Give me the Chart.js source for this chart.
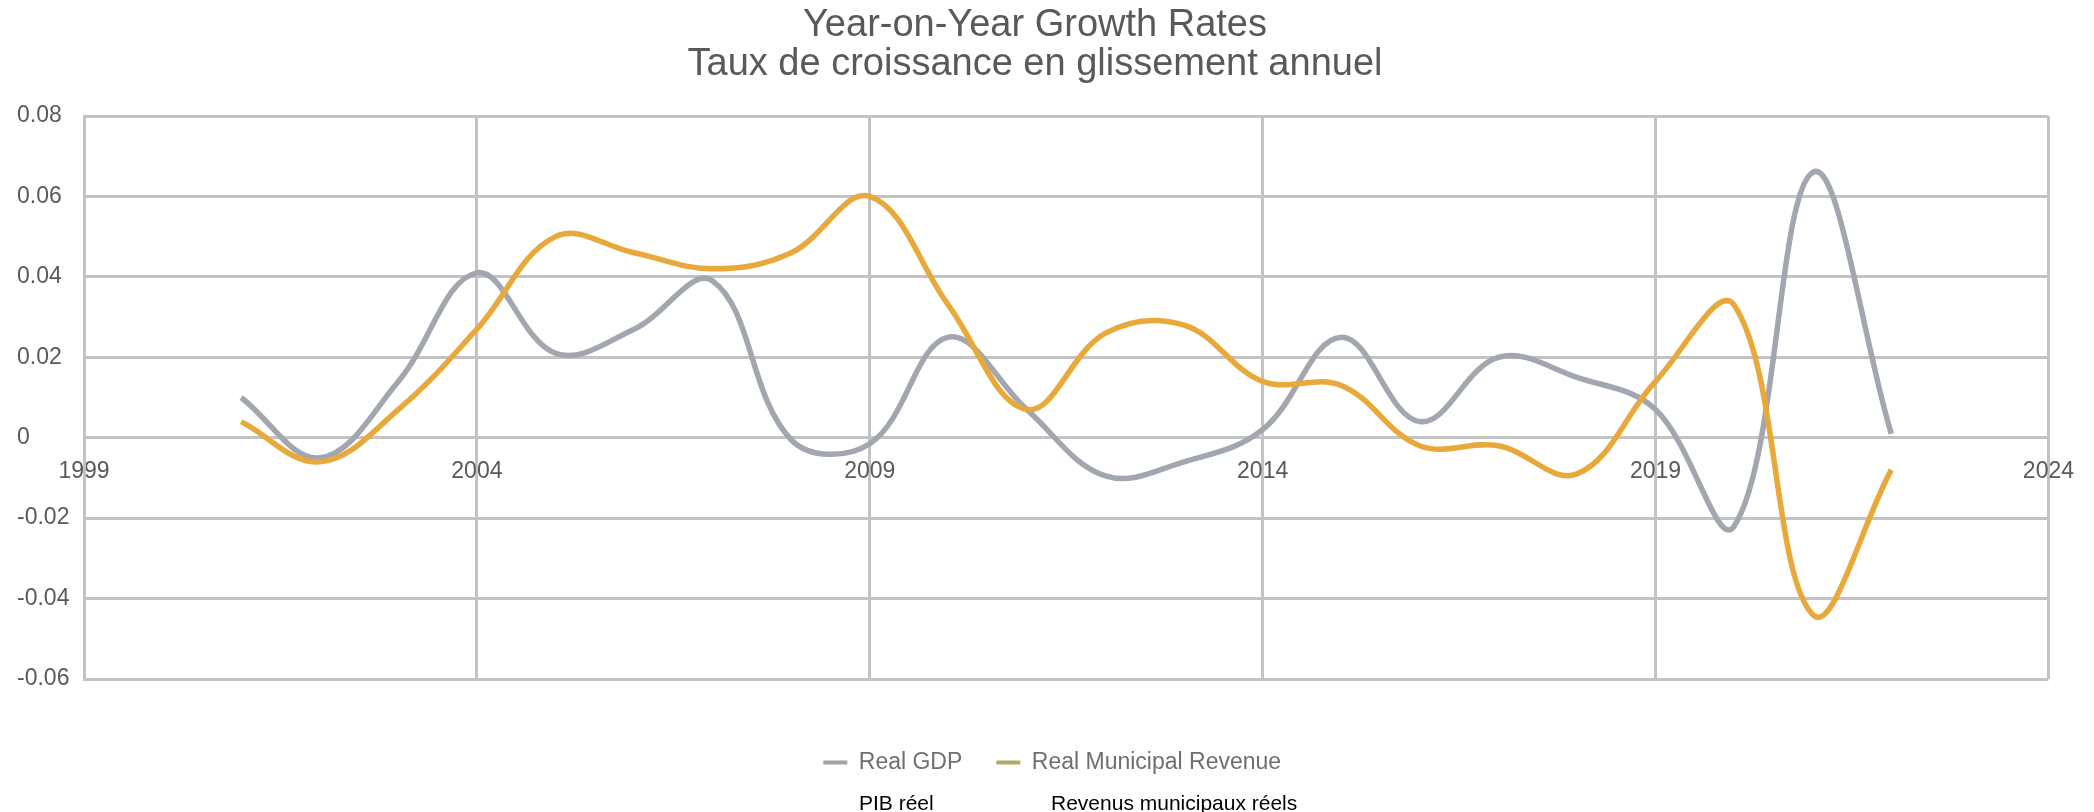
<!DOCTYPE html>
<html><head><meta charset="utf-8">
<script src="https://cdn.jsdelivr.net/npm/chart.js@4.4.1/dist/chart.umd.min.js"></script>
<style>
html,body{margin:0;padding:0;background:#fff;}
#wrap{position:relative;width:2094px;height:812px;overflow:hidden;}
#c{position:absolute;left:0;top:0;}
.fr{position:absolute;font-family:'Liberation Sans',Arial,sans-serif;font-size:21px;line-height:21px;color:#000;white-space:nowrap;}
</style></head><body>
<div id="wrap">
<canvas id="c" width="2094" height="812"></canvas>
<div class="fr" style="left:859px;top:792px">PIB réel</div>
<div class="fr" style="left:1051px;top:792px">Revenus municipaux réels</div>
</div>
<script>
const years = [2001,2002,2003,2004,2005,2006,2007,2008,2009,2010,2011,2012,2013,2014,2015,2016,2017,2018,2019,2020,2021,2022];
const realGDP = [0.010,-0.005,0.014,0.041,0.021,0.027,0.039,-0.0005,-0.0015,0.025,0.007,-0.0095,-0.006,0.002,0.025,0.004,0.020,0.015,0.007,-0.022,0.066,0.001];
const realMunicipalRevenue = [0.004,-0.006,0.007,0.027,0.050,0.046,0.042,0.046,0.060,0.033,0.007,0.026,0.028,0.014,0.013,-0.002,-0.002,-0.009,0.014,0.033,-0.044,-0.008];
const seriesNames = ['Real GDP','Real Municipal Revenue'];
const titleLines = ['Year-on-Year Growth Rates','Taux de croissance en glissement annuel'];
const xTicks = [1999,2004,2009,2014,2019,2024];
const yTicks = [-0.06,-0.04,-0.02,0,0.02,0.04,0.06,0.08];

const FONT = "'Liberation Sans', Arial, sans-serif";
const GRID = '#c3c3c3';
const TXT = '#595959';
const lineColors = ['#a2a6ae','#e8a83a'];
const markerColors = ['#a3a3a3','#b3aa62'];
const LEGEND_SHIFT = -14;

Chart.defaults.font.family = FONT;

const toPts = arr => years.map((x,i)=>({x:x, y:arr[i]}));

const legendShift = {
  id: 'legendShift',
  afterLayout(chart) {
    if (chart.legend) { chart.legend.left += LEGEND_SHIFT; chart.legend.right += LEGEND_SHIFT; }
  }
};

new Chart(document.getElementById('c'), {
  type: 'line',
  data: {
    datasets: [
      {label: seriesNames[0], data: toPts(realGDP), borderColor: lineColors[0], backgroundColor: lineColors[0],
       borderWidth: 5.5, pointRadius: 0, tension: 0.38, xAxisID:'x', yAxisID:'y', order: 1},
      {label: seriesNames[1], data: toPts(realMunicipalRevenue), borderColor: lineColors[1], backgroundColor: lineColors[1],
       borderWidth: 5.5, pointRadius: 0, tension: 0.38, xAxisID:'x', yAxisID:'y', order: 0}
    ]
  },
  plugins: [legendShift],
  options: {
    responsive: false,
    animation: false,
    layout: {padding: {left: 17, right: 41, top: 0, bottom: 28}},
    plugins: {
      tooltip: {enabled: false},
      title: {
        display: true, text: titleLines, color: TXT,
        font: {family: FONT, size: 38, weight: 'normal', lineHeight: '39px'},
        padding: {top: 6.5, bottom: 31.5}
      },
      legend: {
        position: 'bottom', fullSize: false,
        labels: {
          font: {family: FONT, size: 23}, color: '#6e6e6e',
          boxWidth: 24, boxHeight: 4, padding: 34,
          generateLabels: chart => chart.data.datasets.map((d,i)=>({
            text: d.label, fillStyle: markerColors[i], strokeStyle: markerColors[i],
            lineWidth: 0, hidden: false, datasetIndex: i, fontColor: '#6e6e6e'
          }))
        }
      }
    },
    scales: {
      x: {
        type: 'linear', position: {y: 0}, min: 1999, max: 2024,
        afterBuildTicks: s => { s.ticks = xTicks.map(v => ({value: v})); },
        ticks: {font: {family: FONT, size: 23}, color: TXT, padding: 20, maxRotation: 0, autoSkip: false,
                callback: v => String(v)},
        grid: {color: GRID, lineWidth: 3, drawTicks: false},
        border: {color: GRID, width: 3}
      },
      y: {
        type: 'linear', position: 'left', min: -0.06, max: 0.08,
        afterBuildTicks: s => { s.ticks = yTicks.map(v => ({value: v})); },
        afterFit: s => { s.width = 67; },
        ticks: {font: {family: FONT, size: 23}, color: TXT, crossAlign: 'far',
                callback: v => String(+Number(v).toFixed(2))},
        grid: {color: GRID, lineWidth: 3, drawTicks: false},
        border: {color: GRID, width: 3}
      },
      spacer: {
        type: 'linear', position: 'bottom', display: true,
        ticks: {display: false}, grid: {display: false, drawTicks: false}, border: {display: false},
        afterFit: s => { s.height = 38; }
      }
    }
  }
});
</script>
</body></html>
